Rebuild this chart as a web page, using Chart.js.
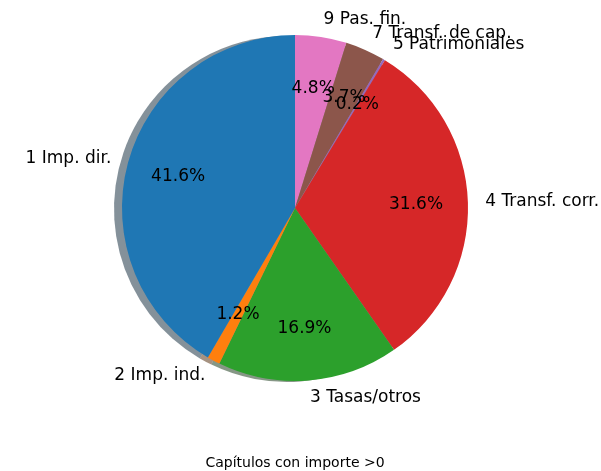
<!DOCTYPE html>
<html>
<head>
<meta charset="utf-8">
<script src="https://cdn.jsdelivr.net/npm/chart.js@4/dist/chart.umd.min.js"></script>
<style>
  body { margin: 0; background: #ffffff; }
  #wrap { width: 601px; height: 471px; }
</style>
</head>
<body>
<div id="wrap"><canvas id="pieChart" width="601" height="471"></canvas></div>
<script>
// Chart.js draws clockwise from the top, so the slices are listed in reverse
const labels = ['9 Pas. fin.', '7 Transf. de cap.', '5 Patrimoniales', '4 Transf. corr.', '3 Tasas/otros', '2 Imp. ind.', '1 Imp. dir.'];
const values = [4.8, 3.7, 0.2, 31.6, 16.9, 1.2, 41.6];
const colors = ['#e377c2', '#8c564b', '#9467bd', '#d62728', '#2ca02c', '#ff7f0e', '#1f77b4'];
const title = 'Capítulos con importe >0';

const total = values.reduce((a, b) => a + b, 0);

function shadowColor(hex) {
    // darkened copy of the wedge colour, half transparent
    const n = parseInt(hex.slice(1), 16);
    const r = Math.round(((n >> 16) & 255) * 0.3);
    const g = Math.round(((n >> 8) & 255) * 0.3);
    const b = Math.round((n & 255) * 0.3);
    return `rgba(${r},${g},${b},0.5)`;
}

const pieShadow = {
    id: 'pieShadow',
    beforeDatasetsDraw(chart) {
        const ctx = chart.ctx;
        const arcs = chart.getDatasetMeta(0).data;
        ctx.save();
        arcs.forEach((arc, i) => {
            ctx.beginPath();
            ctx.moveTo(arc.x - 8, arc.y + 1);
            ctx.arc(arc.x - 8, arc.y + 1, arc.outerRadius, arc.startAngle, arc.endAngle);
            ctx.closePath();
            ctx.fillStyle = shadowColor(colors[i]);
            ctx.fill();
        });
        ctx.restore();
    }
};

const pieText = {
    id: 'pieText',
    afterDatasetsDraw(chart) {
        const ctx = chart.ctx;
        const arcs = chart.getDatasetMeta(0).data;
        ctx.save();
        ctx.fillStyle = '#000000';
        ctx.textBaseline = 'middle';
        ctx.font = '17px "DejaVu Sans"';
        arcs.forEach((arc, i) => {
            const mid = (arc.startAngle + arc.endAngle) / 2;
            const c = Math.cos(mid), s = Math.sin(mid);
            // outer label
            const lx = arc.x + c * arc.outerRadius * 1.1;
            const ly = arc.y + s * arc.outerRadius * 1.1;
            ctx.textAlign = c > 0 ? 'left' : 'right';
            ctx.fillText(labels[i], lx, ly);
        });
        arcs.forEach((arc, i) => {
            const mid = (arc.startAngle + arc.endAngle) / 2;
            const px = arc.x + Math.cos(mid) * arc.outerRadius * 0.7;
            const py = arc.y + Math.sin(mid) * arc.outerRadius * 0.7;
            ctx.textAlign = 'center';
            ctx.fillText((values[i] / total * 100).toFixed(1) + '%', px, py);
        });
        // caption under the pie
        ctx.font = '14px "DejaVu Sans"';
        ctx.textAlign = 'center';
        const area = chart.chartArea;
        ctx.fillText(title, (area.left + area.right) / 2, 463);
        ctx.restore();
    }
};

new Chart(document.getElementById('pieChart').getContext('2d'), {
    type: 'pie',
    data: {
        labels: labels,
        datasets: [{
            data: values,
            backgroundColor: colors,
            borderWidth: 0
        }]
    },
    options: {
        responsive: false,
        animation: false,
        rotation: 0,
        layout: {
            padding: { left: 122, right: 133, top: 35, bottom: 90 }
        },
        plugins: {
            legend: { display: false },
            tooltip: { enabled: false },
            title: { display: false }
        }
    },
    plugins: [pieShadow, pieText]
});
</script>
</body>
</html>
